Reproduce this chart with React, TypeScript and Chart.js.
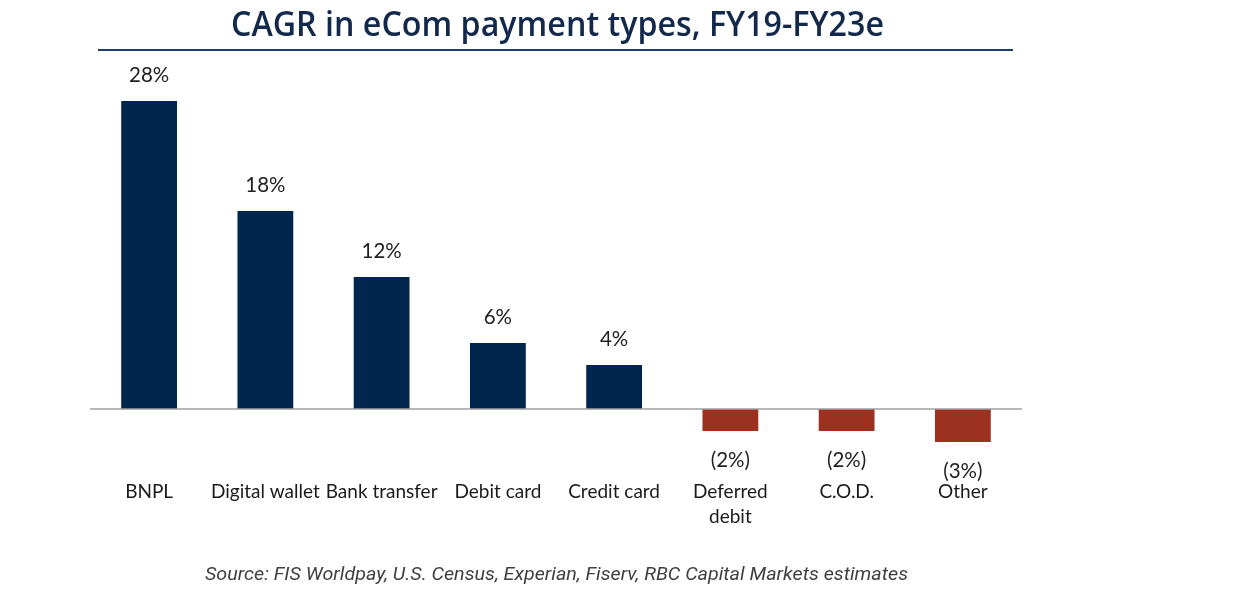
import React, { useEffect, useRef } from "react";
import { Chart, registerables } from "chart.js";
Chart.register(...registerables);

const categories: string[][] = [
  ["BNPL"],
  ["Digital wallet"],
  ["Bank transfer"],
  ["Debit card"],
  ["Credit card"],
  ["Deferred", "debit"],
  ["C.O.D."],
  ["Other"],
];
const cagrValues = [28, 18, 12, 6, 4, -2, -2, -3];
const valueLabels = ["28%", "18%", "12%", "6%", "4%", "(2%)", "(2%)", "(3%)"];
const titleText = "CAGR in eCom payment types, FY19-FY23e";
const sourceText =
  "Source: FIS Worldpay, U.S. Census, Experian, Fiserv, RBC Capital Markets estimates";
const yMin = -5;
const yMax = 30;

const NAVY = "#00264D";
const RED = "#9B311E";
const LABEL_FONT = "Lato, 'Open Sans', sans-serif";

const decorPlugin = {
  id: "decor",
  afterDraw(chart: any) {
    const ctx = chart.ctx as CanvasRenderingContext2D;
    const area = chart.chartArea;
    const yScale = chart.scales.y;
    const zeroY = yScale.getPixelForValue(0);

    // zero baseline
    ctx.save();
    ctx.strokeStyle = "#9f9f9f";
    ctx.lineWidth = 1.5;
    ctx.beginPath();
    ctx.moveTo(area.left - 1, zeroY);
    ctx.lineTo(area.right + 1, zeroY);
    ctx.stroke();
    ctx.restore();

    // value labels
    const meta = chart.getDatasetMeta(0);
    ctx.save();
    ctx.font = `20.5px ${LABEL_FONT}`;
    ctx.fillStyle = "#222222";
    ctx.textAlign = "center";
    ctx.textBaseline = "middle";
    meta.data.forEach((el: any, i: number) => {
      const v = cagrValues[i];
      const y = v >= 0 ? el.y - 26 : el.y + 29;
      ctx.fillText(valueLabels[i], el.x, y);
    });
    ctx.restore();

    // title
    ctx.save();
    ctx.font = `600 34px 'Open Sans', sans-serif`;
    ctx.fillStyle = "#13294B";
    ctx.textBaseline = "alphabetic";
    const tw = ctx.measureText(titleText).width;
    const targetW = 653;
    ctx.translate(231, 36);
    ctx.scale(targetW / tw, 1);
    ctx.fillText(titleText, 0, 0);
    ctx.restore();

    // title rule
    ctx.save();
    ctx.strokeStyle = "#1F3D6B";
    ctx.lineWidth = 2;
    ctx.beginPath();
    ctx.moveTo(98, 50);
    ctx.lineTo(1013, 50);
    ctx.stroke();
    ctx.restore();

    // source
    ctx.save();
    ctx.font = `italic 18px Roboto, sans-serif`;
    ctx.fillStyle = "#404040";
    ctx.textBaseline = "alphabetic";
    const sw = ctx.measureText(sourceText).width;
    const sTarget = 703;
    ctx.translate(205, 580);
    ctx.scale(sTarget / sw, 1);
    ctx.fillText(sourceText, 0, 0);
    ctx.restore();
  },
};

export default function App() {
  const ref = useRef<HTMLCanvasElement | null>(null);
  useEffect(() => {
    if (!ref.current) return;
    const chart = new Chart(ref.current, {
      type: "bar",
      data: {
        labels: categories,
        datasets: [
          {
            data: cagrValues,
            backgroundColor: cagrValues.map((v) => (v >= 0 ? NAVY : RED)),
            borderWidth: 0,
            barPercentage: 0.48,
            categoryPercentage: 1,
          },
        ],
      },
      options: {
        animation: false,
        responsive: false,
        devicePixelRatio: 1,
        layout: { padding: { left: 91, right: 221, top: 79, bottom: 0 } },
        plugins: {
          legend: { display: false },
          tooltip: { enabled: false },
          title: { display: false },
        },
        scales: {
          y: {
            display: false,
            min: yMin,
            max: yMax,
          },
          x: {
            grid: { display: false, drawTicks: false },
            border: { display: false },
            afterFit: (axis: any) => {
              axis.height = 125;
            },
            ticks: {
              autoSkip: false,
              maxRotation: 0,
              minRotation: 0,
              padding: 15,
              color: "#1a1a1a",
              font: { family: LABEL_FONT, size: 19, lineHeight: 1.32 },
            },
          },
        },
      },
      plugins: [decorPlugin],
    });
    return () => chart.destroy();
  }, []);
  return (
    <div
      style={{
        position: "fixed",
        left: 0,
        top: 0,
        width: 1242,
        height: 589,
        background: "#ffffff",
      }}
    >
      <canvas ref={ref} width={1242} height={589} />
    </div>
  );
}
